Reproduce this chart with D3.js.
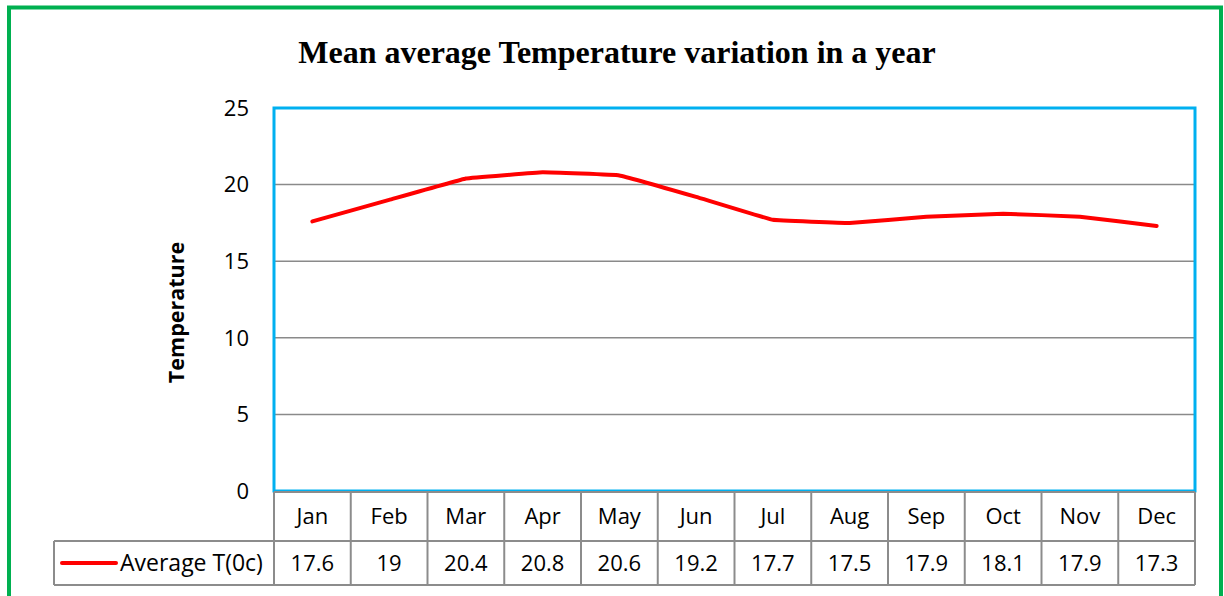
<!DOCTYPE html>
<html>
<head>
<meta charset="utf-8">
<script src="https://cdn.jsdelivr.net/npm/d3@7"></script>
<style>
  body { margin: 0; background: #fff; }
  svg { display: block; }
</style>
</head>
<body>
<div id="chart"></div>
<script>
// Chart data
const months = ["Jan", "Feb", "Mar", "Apr", "May", "Jun", "Jul", "Aug", "Sep", "Oct", "Nov", "Dec"];
const avgTemp = [17.6, 19, 20.4, 20.8, 20.6, 19.2, 17.7, 17.5, 17.9, 18.1, 17.9, 17.3];
const yTicks = [0, 5, 10, 15, 20, 25];
const seriesName = "Average T(0c)";
const title = "Mean average Temperature variation in a year";
const yLabel = "Temperature";

const width = 1224, height = 596;
const plot = { left: 274, right: 1195, top: 108, bottom: 491 };
const rowH = 47; // table row height
const tableLeft = 54;
const bodyFont = "'Open Sans', Lato, sans-serif";
const fs = "22px";

const svg = d3.select("#chart").append("svg")
    .attr("width", width)
    .attr("height", height);

// Outer green frame
svg.append("rect")
    .attr("x", 9).attr("y", 7.5)
    .attr("width", 1212).attr("height", 620)
    .attr("fill", "none")
    .attr("stroke", "#00b050")
    .attr("stroke-width", 4);

// Title
svg.append("text")
    .attr("x", 617).attr("y", 63)
    .attr("text-anchor", "middle")
    .style("font-family", "'Liberation Serif', 'Times New Roman', serif")
    .style("font-weight", "bold")
    .style("font-size", "32px")
    .text(title);

// Scales
const x = d3.scaleBand().domain(months).range([plot.left, plot.right]);
const y = d3.scaleLinear().domain([0, 25]).range([plot.bottom, plot.top]);

// Gridlines
svg.append("g")
    .selectAll("line")
    .data(yTicks)
    .enter().append("line")
    .attr("x1", plot.left).attr("x2", plot.right)
    .attr("y1", d => y(d)).attr("y2", d => y(d))
    .attr("stroke", "#8a8a8a")
    .attr("stroke-width", 1.5);

// Y tick labels
svg.append("g")
    .selectAll("text")
    .data(yTicks)
    .enter().append("text")
    .attr("x", 249)
    .attr("y", d => y(d))
    .attr("dy", "0.35em")
    .attr("text-anchor", "end")
    .style("font-family", bodyFont)
    .style("font-size", fs)
    .text(d => d);

// Y axis label
svg.append("text")
    .attr("transform", `translate(184, ${(plot.top + plot.bottom) / 2 + 13}) rotate(-90)`)
    .attr("text-anchor", "middle")
    .style("font-family", bodyFont)
    .style("font-weight", "bold")
    .style("font-size", "21.5px")
    .text(yLabel);

// Line
const line = d3.line()
    .x((d, i) => x(months[i]) + x.bandwidth() / 2)
    .y(d => y(d))
    .curve(d3.curveCardinal.tension(0.85));

svg.append("path")
    .datum(avgTemp)
    .attr("d", line)
    .attr("fill", "none")
    .attr("stroke", "#ff0000")
    .attr("stroke-width", 4)
    .attr("stroke-linejoin", "round")
    .attr("stroke-linecap", "round");

// Plot area border
svg.append("rect")
    .attr("x", plot.left).attr("y", plot.top)
    .attr("width", plot.right - plot.left)
    .attr("height", plot.bottom - plot.top)
    .attr("fill", "none")
    .attr("stroke", "#00b0f0")
    .attr("stroke-width", 3);

// Data table
const table = svg.append("g");
const gray = "#8c8c8c";
const row1Top = plot.bottom + 1, row2Top = 541, row2Bot = 585;

// category row verticals
table.selectAll(".vcat")
    .data(d3.range(months.length + 1))
    .enter().append("line")
    .attr("x1", i => plot.left + i * x.bandwidth())
    .attr("x2", i => plot.left + i * x.bandwidth())
    .attr("y1", row1Top).attr("y2", row2Bot)
    .attr("stroke", gray).attr("stroke-width", 2);

// value row left border
table.append("line")
    .attr("x1", tableLeft).attr("x2", tableLeft)
    .attr("y1", row2Top).attr("y2", row2Bot)
    .attr("stroke", gray).attr("stroke-width", 2);

// horizontals
[[plot.left, row1Top], [tableLeft, row2Top], [tableLeft, row2Bot]].forEach(([x0, yy]) => {
    table.append("line")
        .attr("x1", x0).attr("x2", plot.right)
        .attr("y1", yy).attr("y2", yy)
        .attr("stroke", gray).attr("stroke-width", 2);
});

// month labels
table.selectAll(".mlab")
    .data(months)
    .enter().append("text")
    .attr("x", d => x(d) + x.bandwidth() / 2)
    .attr("y", (row1Top + row2Top) / 2)
    .attr("dy", "0.35em")
    .attr("text-anchor", "middle")
    .style("font-family", bodyFont)
    .style("font-size", fs)
    .text(d => d);

// values
table.selectAll(".vlab")
    .data(avgTemp)
    .enter().append("text")
    .attr("x", (d, i) => x(months[i]) + x.bandwidth() / 2)
    .attr("y", (row2Top + row2Bot) / 2)
    .attr("dy", "0.35em")
    .attr("text-anchor", "middle")
    .style("font-family", bodyFont)
    .style("font-size", fs)
    .text(d => d);

// legend key
table.append("line")
    .attr("x1", 62).attr("x2", 116)
    .attr("y1", (row2Top + row2Bot) / 2).attr("y2", (row2Top + row2Bot) / 2)
    .attr("stroke", "#ff0000")
    .attr("stroke-width", 4)
    .attr("stroke-linecap", "round");
table.append("text")
    .attr("x", 120)
    .attr("y", (row2Top + row2Bot) / 2)
    .attr("dy", "0.35em")
    .style("font-family", bodyFont)
    .style("font-size", "23px")
    .text(seriesName);
</script>
</body>
</html>
